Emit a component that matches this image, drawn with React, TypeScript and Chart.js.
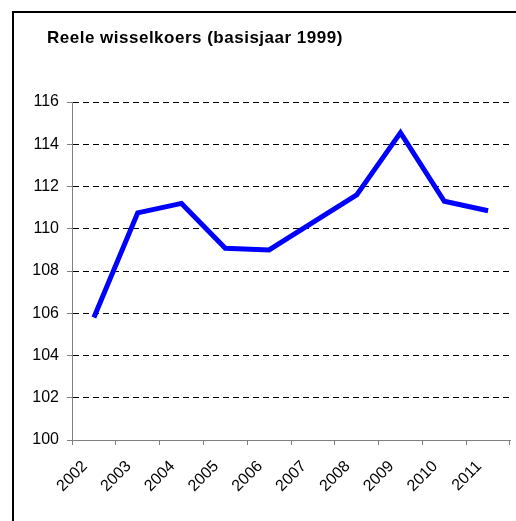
import React, { useEffect, useRef } from "react";
import { Chart, registerables } from "chart.js";

Chart.register(...registerables);

const chartTitle = "Reele wisselkoers (basisjaar 1999)";
const years = ["2002", "2003", "2004", "2005", "2006", "2007", "2008", "2009", "2010", "2011"];
const wisselkoers = [105.8, 110.75, 111.2, 109.08, 109.0, 110.3, 111.6, 114.55, 111.3, 110.85];
const yMin = 100;
const yMax = 116;
const yStep = 2;

const FONT = "'Liberation Sans', Arial, sans-serif";

const titlePlugin = {
  id: "leftTitle",
  afterDraw(chart: any) {
    const ctx = chart.ctx;
    ctx.save();
    ctx.font = `bold 17px ${FONT}`;
    try { (ctx as any).letterSpacing = "0.5px"; } catch (e) {}
    ctx.fillStyle = "#000";
    ctx.textBaseline = "middle";
    ctx.textAlign = "left";
    ctx.fillText(chartTitle, chart.chartArea.left - 25, 25);
    ctx.restore();
  },
};

export default function App() {
  const ref = useRef<HTMLCanvasElement | null>(null);
  useEffect(() => {
    if (!ref.current) return;
    const chart = new Chart(ref.current, {
      type: "line",
      data: {
        labels: years,
        datasets: [
          {
            data: wisselkoers,
            borderColor: "#0000FF",
            borderWidth: 5,
            pointRadius: 0,
            tension: 0,
            borderJoinStyle: "miter",
            fill: false,
          },
        ],
      },
      options: {
        responsive: false,
        animation: false,
        layout: { padding: { top: 89, right: 6, bottom: 0, left: 0 } },
        plugins: { legend: { display: false }, tooltip: { enabled: false }, title: { display: false } },
        scales: {
          x: {
            offset: true,
            afterFit(scale: any) { scale.height = 81; },
            grid: { display: true, offset: true, drawOnChartArea: false, drawTicks: true, tickLength: 5, tickColor: "#808080" },
            border: { display: true, color: "#808080", width: 1 },
            ticks: { color: "#000", font: { family: FONT, size: 16 }, maxRotation: 45, minRotation: 45, padding: 12, labelOffset: -9, autoSkip: false },
          },
          y: {
            min: yMin,
            max: yMax,
            afterFit(scale: any) { scale.width = 58; },
            ticks: { stepSize: yStep, color: "#000", font: { family: FONT, size: 16 }, padding: 8 },
            grid: {
              color: (c: any) => (c.tick && c.tick.value === yMin ? "rgba(0,0,0,0)" : "#000"),
              lineWidth: 1,
              drawTicks: true,
              tickLength: 5,
              tickColor: "#808080",
              tickBorderDash: [],
            },
            border: { display: true, color: "#808080", width: 1, dash: [6, 4] },
          },
        },
      },
      plugins: [titlePlugin],
    });
    return () => chart.destroy();
  }, []);

  return (
    <div
      style={{
        position: "fixed",
        left: 12,
        top: 11,
        width: 600,
        height: 600,
        borderTop: "2px solid #000",
        borderLeft: "2px solid #000",
        background: "#fff",
      }}
    >
      <canvas ref={ref} width={502} height={508} style={{ display: "block" }} />
    </div>
  );
}
